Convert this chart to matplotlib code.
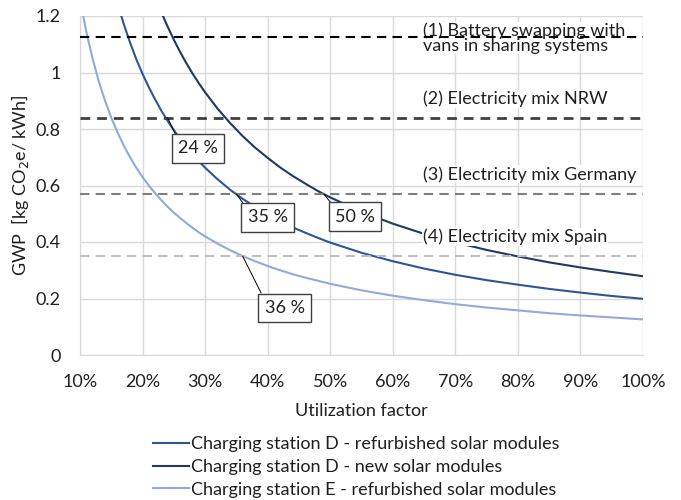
import matplotlib.pyplot as plt
from matplotlib.ticker import FuncFormatter

plt.rcParams['font.family'] = ['Lato', 'DejaVu Sans']

# Utilization factor (share of time in use) and GWP per kWh for each charging station
utilization = [0.10, 0.11, 0.12, 0.13, 0.14, 0.15, 0.16, 0.17, 0.18, 0.19,
               0.20, 0.21, 0.22, 0.23, 0.24, 0.25, 0.26, 0.27, 0.28, 0.29,
               0.30, 0.32, 0.34, 0.36, 0.38, 0.40, 0.42, 0.44, 0.46, 0.48,
               0.50, 0.55, 0.60, 0.65, 0.70, 0.75, 0.80, 0.85, 0.90, 0.95, 1.00]

gwp_d_refurbished = [1.990, 1.809, 1.658, 1.531, 1.421, 1.327, 1.244, 1.171, 1.106, 1.047,
                     0.995, 0.948, 0.905, 0.865, 0.829, 0.796, 0.765, 0.737, 0.711, 0.686,
                     0.663, 0.622, 0.585, 0.553, 0.524, 0.498, 0.474, 0.452, 0.433, 0.415,
                     0.398, 0.362, 0.332, 0.306, 0.284, 0.265, 0.249, 0.234, 0.221, 0.209, 0.199]

gwp_d_new = [2.790, 2.536, 2.325, 2.146, 1.993, 1.860, 1.744, 1.641, 1.550, 1.468,
             1.395, 1.329, 1.268, 1.213, 1.163, 1.116, 1.073, 1.033, 0.996, 0.962,
             0.930, 0.872, 0.821, 0.775, 0.734, 0.698, 0.664, 0.634, 0.607, 0.581,
             0.558, 0.507, 0.465, 0.429, 0.399, 0.372, 0.349, 0.328, 0.310, 0.294, 0.279]

gwp_e_refurbished = [1.260, 1.145, 1.050, 0.969, 0.900, 0.840, 0.788, 0.741, 0.700, 0.663,
                     0.630, 0.600, 0.573, 0.548, 0.525, 0.504, 0.485, 0.467, 0.450, 0.434,
                     0.420, 0.394, 0.371, 0.350, 0.332, 0.315, 0.300, 0.286, 0.274, 0.263,
                     0.252, 0.229, 0.210, 0.194, 0.180, 0.168, 0.158, 0.148, 0.140, 0.133, 0.126]

series_labels = ['Charging station D - refurbished solar modules',
                 'Charging station D - new solar modules',
                 'Charging station E - refurbished solar modules']

# Reference values for comparison
ref_values = [1.127, 0.84, 0.57, 0.35]
ref_labels = ['(1) Battery swapping with\nvans in sharing systems',
              '(2) Electricity mix NRW',
              '(3) Electricity mix Germany',
              '(4) Electricity mix Spain']

# Break-even annotations: utilization where a station meets a reference value
breakeven_x = [0.24, 0.35, 0.49, 0.36]
breakeven_y = [0.84, 0.57, 0.57, 0.35]
breakeven_text = ['24 %', '35 %', '50 %', '36 %']

FS = 13
TXT = '#1f1f1f'

fig = plt.figure(figsize=(6.81, 5.0), dpi=100)
ax = fig.add_axes([0.1175, 0.29, 0.8265, 0.678])

ax.plot(utilization, gwp_d_refurbished, color='#2f5597', lw=1.5, zorder=2, label=series_labels[0])
ax.plot(utilization, gwp_d_new, color='#203864', lw=1.5, zorder=2, label=series_labels[1])
ax.plot(utilization, gwp_e_refurbished, color='#8faadc', lw=1.5, zorder=2, label=series_labels[2])

# dashed reference lines
ref_styles = [('#000000', 1.5, (0, (4.5, 3))),
              ('#404040', 2.0, (0, (3.5, 2.5))),
              ('#7f7f7f', 1.5, (0, (4.5, 3))),
              ('#bfbfbf', 1.5, (0, (4.5, 3)))]
for val, (col, lw, ls) in zip(ref_values, ref_styles):
    ax.axhline(val, color=col, lw=lw, linestyle=ls, zorder=4)

label_y = [1.122, 0.906, 0.639, 0.419]
for txt, y in zip(ref_labels, label_y):
    ax.text(0.648, y, txt, fontsize=FS, color=TXT, va='center', ha='left',
            linespacing=0.9, zorder=3,
            bbox=dict(facecolor='white', edgecolor='none', pad=0.5))

box_pos = [(0.289, 0.732), (0.400, 0.487), (0.540, 0.490), (0.427, 0.167)]
for x, y, txt, (bx, by) in zip(breakeven_x, breakeven_y, breakeven_text, box_pos):
    ax.annotate(txt, xy=(x, y), xytext=(bx, by), textcoords='data',
                fontsize=FS, color=TXT, ha='center', va='center', zorder=5,
                bbox=dict(boxstyle='square,pad=0.35', facecolor='white',
                          edgecolor='#404040', lw=1.0),
                arrowprops=dict(arrowstyle='-', color='black', lw=0.7,
                                shrinkA=0, shrinkB=0,
                                relpos=(0.0, 1.0)))

ax.set_xlim(0.10, 1.00)
ax.set_ylim(0, 1.2)
ax.set_xticks([0.1, 0.2, 0.3, 0.4, 0.5, 0.6, 0.7, 0.8, 0.9, 1.0])
ax.set_yticks([0, 0.2, 0.4, 0.6, 0.8, 1.0, 1.2])
ax.xaxis.set_major_formatter(FuncFormatter(lambda v, p: f'{v * 100:.0f}%'))
ax.yaxis.set_major_formatter(FuncFormatter(lambda v, p: f'{v:g}'))
ax.tick_params(length=0, labelsize=FS, colors=TXT)
ax.tick_params(axis='x', pad=14)
ax.tick_params(axis='y', pad=14)
ax.grid(True, color='#d9d9d9', lw=1.0, zorder=0)
ax.set_axisbelow(True)
for side in ['top', 'right']:
    ax.spines[side].set_visible(False)
for side in ['left', 'bottom']:
    ax.spines[side].set_color('#d9d9d9')

ax.set_xlabel('Utilization factor', fontsize=FS, color=TXT, labelpad=9)
ax.set_ylabel('GWP  [kg CO$_2$e/ kWh]', fontsize=FS, color=TXT, labelpad=3)

fig.legend(loc='upper left', bbox_to_anchor=(0.225, 0.128), frameon=False,
           fontsize=FS, handlelength=2.0, handletextpad=0.08, labelspacing=0.38,
           borderaxespad=0, borderpad=0, labelcolor=TXT)

fig.savefig('out.png', dpi=100)
